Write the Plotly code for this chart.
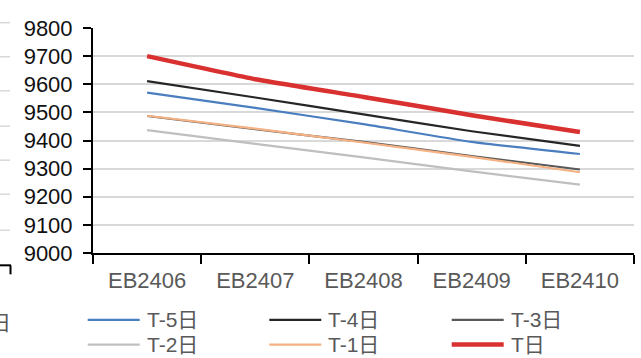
import plotly.graph_objects as go

categories = ["EB2406", "EB2407", "EB2408", "EB2409", "EB2410"]
series_names = ["T-5日", "T-4日", "T-3日", "T-2日", "T-1日", "T日"]
t5 = [9570, 9516, 9458, 9395, 9352]
t4 = [9611, 9553, 9493, 9433, 9381]
t3 = [9487, 9440, 9395, 9345, 9297]
t2 = [9437, 9388, 9340, 9290, 9243]
t1 = [9488, 9442, 9393, 9342, 9287]
t0 = [9700, 9618, 9555, 9490, 9430]
values = [t5, t4, t3, t2, t1, t0]
colors = ["#4a7ebf", "#262626", "#595959", "#bfbfbf", "#f4b183", "#d93030"]
widths = [2.2, 2.2, 2.2, 2.2, 2.2, 4.5]

W, H = 641, 358
L, R, T, B = 93, 634, 28, 252.7
pw, ph = R - L, B - T

def px(x):
    return (x - L) / pw

def py(y):
    return (B - y) / ph

fig = go.Figure()
for name, vals, c, w in zip(series_names, values, colors, widths):
    fig.add_trace(go.Scatter(x=categories, y=vals, mode="lines", name=name,
                             line=dict(color=c, width=w, shape="spline", smoothing=0.4),
                             showlegend=False))

font_fam = "Arial, Liberation Sans, Noto Sans CJK SC, sans-serif"

# manual legend
shapes = []
annotations = []
col_x = [87.7, 269.3, 451.7]
row_y = [319.5, 344.2]
for i, (name, c, w) in enumerate(zip(series_names, colors, widths)):
    r, cidx = divmod(i, 3)
    x0 = col_x[cidx]
    y0 = row_y[r]
    shapes.append(dict(type="line", xref="paper", yref="paper",
                       x0=px(x0), x1=px(x0 + 52), y0=py(y0), y1=py(y0),
                       line=dict(color=c, width=w)))
    annotations.append(dict(text=name, xref="paper", yref="paper",
                            x=px(x0 + 57), y=py(y0), xanchor="left", yanchor="middle",
                            showarrow=False, font=dict(size=21, color="#595959", family=font_fam)))

# stray fragments of the neighbouring chart at the left edge
for gy in [22.7, 56.7, 90.7, 126, 160, 194, 230]:
    shapes.append(dict(type="line", xref="paper", yref="paper",
                       x0=px(0), x1=px(10), y0=py(gy), y1=py(gy),
                       line=dict(color="#d9d9d9", width=1.5)))
shapes.append(dict(type="line", xref="paper", yref="paper",
                   x0=px(0), x1=px(11), y0=py(265), y1=py(265),
                   line=dict(color="#000000", width=2)))
shapes.append(dict(type="line", xref="paper", yref="paper",
                   x0=px(10.5), x1=px(10.5), y0=py(265), y1=py(274),
                   line=dict(color="#000000", width=2)))
annotations.append(dict(text="日", xref="paper", yref="paper",
                        x=px(-12), y=py(322), xanchor="left", yanchor="middle",
                        showarrow=False, font=dict(size=21, color="#595959", family=font_fam)))

fig.update_layout(
    width=W, height=H,
    margin=dict(l=L, r=W - R, t=T, b=H - B),
    paper_bgcolor="white", plot_bgcolor="white",
    shapes=shapes, annotations=annotations,
    showlegend=False,
    font=dict(family=font_fam),
)
fig.update_xaxes(
    type="category", range=[-0.5, 4.5],
    showline=True, linecolor="#000000", linewidth=2,
    ticks="outside", tickson="boundaries", ticklen=9, tickwidth=2, tickcolor="#000000",
    tickfont=dict(size=22, color="#595959", family=font_fam),
    ticklabelstandoff=7, showgrid=False, zeroline=False,
)
fig.update_yaxes(
    range=[9000, 9800], dtick=100, tickformat="d",
    showline=True, linecolor="#000000", linewidth=2,
    ticks="outside", ticklen=8, tickwidth=2, tickcolor="#000000",
    tickfont=dict(size=22, color="#111111", family=font_fam),
    ticklabelstandoff=6,
    showgrid=True, gridcolor="#d9d9d9", gridwidth=1.5, zeroline=False,
)

fig.write_html("out.html", config={"displayModeBar": False},
               post_script="document.body.style.margin='0';document.body.style.overflow='hidden';")
